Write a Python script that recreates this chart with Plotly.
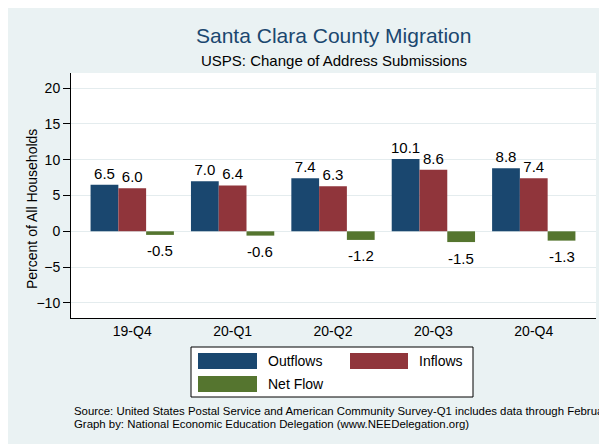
import plotly.graph_objects as go

# ---- data ----
quarters = ["19-Q4", "20-Q1", "20-Q2", "20-Q3", "20-Q4"]
outflows = [6.5, 7.0, 7.4, 10.1, 8.8]
inflows = [6.0, 6.4, 6.3, 8.6, 7.4]
net_flow = [-0.5, -0.6, -1.2, -1.5, -1.3]
y_ticks = [-10, -5, 0, 5, 10, 15, 20]

# ---- style ----
# the page body has an 8px margin, so the figure starts at (8, 8) in the window
OFF = 8
W, H = 607 - OFF, 444 - OFF
PLOT_X0, PLOT_X1, PLOT_Y0, PLOT_Y1 = 71, 596, 73, 318   # window pixels
L, R, T, B = PLOT_X0 - OFF, 607 - PLOT_X1, PLOT_Y0 - OFF, 444 - PLOT_Y1
PW, PH = PLOT_X1 - PLOT_X0, PLOT_Y1 - PLOT_Y0
X_RANGE = [-0.61, 4.62]
BARGAP = 0.17
BAR_PX = PW / (X_RANGE[1] - X_RANGE[0]) * (1 - BARGAP) / 3
BG = "#eaf2f3"
C_OUT, C_IN, C_NET = "#1a476f", "#90353b", "#55752f"
FONT = "Liberation Sans, Arial, Helvetica, sans-serif"


def px(x):
    return (x - PLOT_X0) / PW


def py(y):
    return (PLOT_Y1 - y) / PH


fig = go.Figure()
for name, vals, col, txt in [("Outflows", outflows, C_OUT, True),
                             ("Inflows", inflows, C_IN, True),
                             ("Net Flow", net_flow, C_NET, False)]:
    fig.add_trace(go.Bar(
        x=quarters, y=vals, name=name, marker=dict(color=col, line=dict(width=0)),
        text=[f"{v:.1f}" for v in vals] if txt else None,
        textposition="outside" if txt else "none",
        textfont=dict(size=15, color="black", family=FONT),
        constraintext="none", cliponaxis=False, showlegend=False,
    ))

annotations = []
# net flow value labels below bars
for q, v in zip(quarters, net_flow):
    annotations.append(dict(x=q, y=v, xref="x", yref="y", text=f"{v:.1f}",
                            showarrow=False, xshift=BAR_PX, yshift=-16, yanchor="middle",
                            font=dict(size=15, color="black", family=FONT)))

# titles
annotations.append(dict(x=0.5, y=py(36), xref="paper", yref="paper",
                        text="Santa Clara County Migration", showarrow=False,
                        yanchor="middle", font=dict(size=21, color=C_OUT, family=FONT)))
annotations.append(dict(x=0.5, y=py(60), xref="paper", yref="paper",
                        text="USPS: Change of Address Submissions", showarrow=False,
                        yanchor="middle", font=dict(size=15, color="black", family=FONT)))
annotations.append(dict(x=px(32), y=py(209), xref="paper", yref="paper",
                        text="Percent of All Households", showarrow=False, textangle=-90,
                        xanchor="center", yanchor="middle",
                        font=dict(size=14, color="black", family=FONT)))
# footer
annotations.append(dict(x=px(72), y=py(411), xref="paper", yref="paper", xanchor="left",
                        yanchor="middle", showarrow=False,
                        text="Source: United States Postal Service and American Community Survey-Q1 includes data through February",
                        font=dict(size=11.4, color="black", family=FONT)))
annotations.append(dict(x=px(72), y=py(424), xref="paper", yref="paper", xanchor="left",
                        yanchor="middle", showarrow=False,
                        text="Graph by: National Economic Education Delegation (www.NEEDelegation.org)",
                        font=dict(size=11.4, color="black", family=FONT)))

# legend (manual)
shapes = []
shapes.append(dict(type="rect", xref="paper", yref="paper", x0=px(191), x1=px(473),
                   y0=py(397), y1=py(347), fillcolor="white", line=dict(color="black", width=1)))
legend_items = [("Outflows", C_OUT, 198, 257, 353, 369, 266, 361),
                ("Inflows", C_IN, 350, 408, 353, 369, 417, 361),
                ("Net Flow", C_NET, 198, 257, 376, 392, 266, 384)]
for name, col, x0, x1, y0, y1, tx, ty in legend_items:
    shapes.append(dict(type="rect", xref="paper", yref="paper", x0=px(x0), x1=px(x1),
                       y0=py(y1), y1=py(y0), fillcolor=col, line=dict(width=0)))
    annotations.append(dict(x=px(tx), y=py(ty), xref="paper", yref="paper", text=name,
                            showarrow=False, xanchor="left", yanchor="middle",
                            font=dict(size=14, color="black", family=FONT)))

fig.update_layout(
    width=W, height=H, autosize=False,
    margin=dict(l=L, r=R, t=T, b=B, pad=0),
    paper_bgcolor=BG, plot_bgcolor="white",
    barmode="group", bargap=BARGAP, bargroupgap=0,
    font=dict(family=FONT, color="black"),
    showlegend=False,
    annotations=annotations, shapes=shapes,
    xaxis=dict(type="category", range=X_RANGE, showline=True, linecolor="black",
               linewidth=1, ticks="", showgrid=False, tickfont=dict(size=14),
               fixedrange=True),
    yaxis=dict(range=[-12.1, 22.1], tickvals=y_ticks, ticks="outside", ticklen=7,
               tickcolor="black", showline=True, linecolor="black", linewidth=1,
               gridcolor="#e4ecee", gridwidth=1, zeroline=False,
               tickfont=dict(size=14), fixedrange=True),
)

fig.write_html("out.html")
